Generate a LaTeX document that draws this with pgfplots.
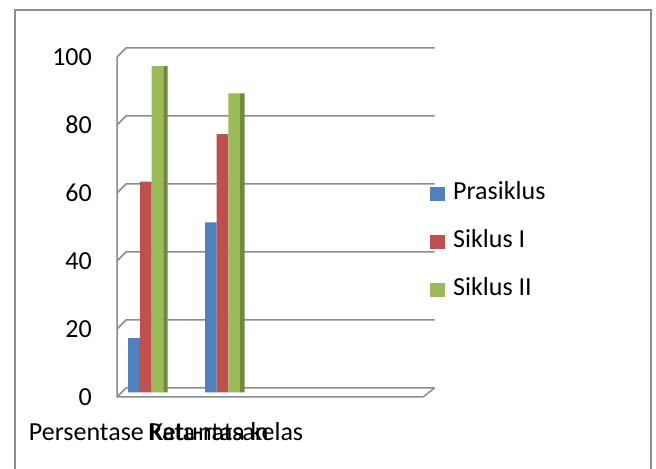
\documentclass[border=0pt]{standalone}
\usepackage{pgfplots}
\pgfplotsset{compat=1.18}
\usepackage{fontspec}
\setmainfont{Carlito}
\definecolor{cBlue}{HTML}{4F81BD}
\definecolor{cRed}{HTML}{C0504D}
\definecolor{cGreen}{HTML}{9BBB59}
\definecolor{cGreenD}{HTML}{71893F}
\definecolor{cGrid}{HTML}{8C8C8C}
\newcommand{\bigf}{\fontsize{26bp}{31bp}\selectfont}
\begin{document}
\begin{tikzpicture}[x=1bp,y=1bp]
\useasboundingbox (0,0) rectangle (656,469);
\draw[cGrid, line width=1.5bp] (15,-10) -- (15,459) -- (651,459) -- (651,-10);
\begin{axis}[
  at={(121.5bp,76.5bp)}, anchor=south west,
  scale only axis, width=307bp, height=340bp,
  xmin=-0.315, xmax=3.68, ymin=0, ymax=100,
  clip=false,
  axis line style={draw=none}, major tick style={draw=none},
  ytick={0,20,40,60,80,100},
  xtick={0,1}, xticklabels={Persentase Ketuntasan, Rata-rata kelas},
  /pgf/number format/assume math mode=true,
  tick label style={font=\bigf},
  yticklabel style={anchor=east, inner sep=0pt, xshift=-29.5bp, yshift=-4.5bp},
  xticklabel style={anchor=base, inner sep=0pt, yshift=-44bp, xshift=3bp},
  ybar, bar width=11.7bp,
  legend style={at={(1.005,0.615)}, anchor=north west, draw=none, fill=none,
    inner sep=0pt, row sep=27bp, font=\bigf,
    nodes={inner sep=0pt, text height=16bp, text depth=5bp}},
  legend cell align=left,
  legend image code/.code={\fill[#1,draw=none] (0bp,-7bp) rectangle (15bp,7bp);\path (23bp,0);},
]
\pgfplotsinvokeforeach{0,20,40,60,80,100}{
  \draw[cGrid, line width=1.5bp] ([shift={(-4.5bp,-4.5bp)}]axis cs:-0.315,#1) -- ([shift={(4.5bp,4.5bp)}]axis cs:-0.315,#1) -- ([shift={(6bp,4.5bp)}]axis cs:3.68,#1);
}
\draw[cGrid, line width=1.5bp] ([shift={(-4.5bp,-4.5bp)}]axis cs:-0.315,100) -- ([shift={(-4.5bp,-4.5bp)}]axis cs:-0.315,0) -- ([shift={(-5.5bp,-4.5bp)}]axis cs:3.68,0) -- ([shift={(6bp,4.5bp)}]axis cs:3.68,0);
\addplot[fill=cBlue, draw=none, bar shift=-11.7bp] coordinates {(0,16) (1,50)};
\addplot[fill=cRed, draw=none, bar shift=0bp] coordinates {(0,62) (1,76)};
\addplot[fill=cGreen, draw=none, bar shift=11.7bp] coordinates {(0,96) (1,88)};
\addplot[fill=cGreenD, draw=none, bar shift=19.75bp, bar width=4.4bp, forget plot] coordinates {(0,96) (1,88)};
\legend{Prasiklus, Siklus I, Siklus II}
\end{axis}
\end{tikzpicture}
\end{document}
